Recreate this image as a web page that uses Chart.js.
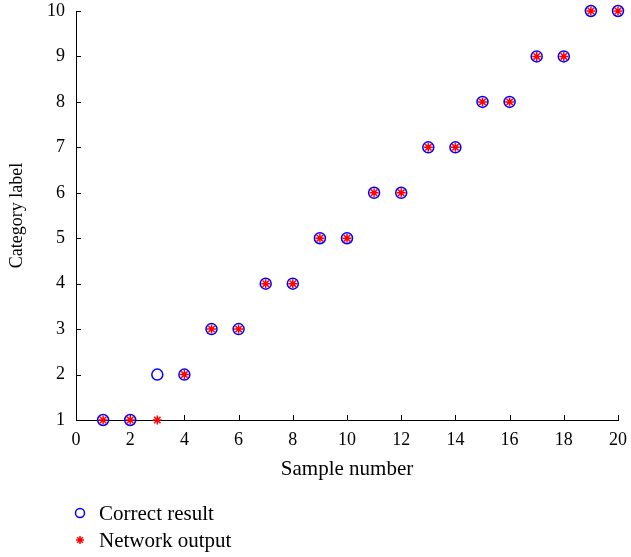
<!DOCTYPE html>
<html>
<head>
<meta charset="utf-8">
<title>Category label vs sample number</title>
<script src="https://cdn.jsdelivr.net/npm/chart.js"></script>
<style>
	html, body { margin: 0; padding: 0; background: #fff; }
	.chart-box { width: 631px; height: 557px; position: relative; }
</style>
</head>
<body>
<div class="chart-box"><canvas id="ScatterChart"></canvas></div>
<script>
// data
var samples = [1, 2, 3, 4, 5, 6, 7, 8, 9, 10, 11, 12, 13, 14, 15, 16, 17, 18, 19, 20];
var correctResult = [1, 1, 2, 2, 3, 3, 4, 4, 5, 5, 6, 6, 7, 7, 8, 8, 9, 9, 10, 10];
var networkOutput = [1, 1, 1, 2, 3, 3, 4, 4, 5, 5, 6, 6, 7, 7, 8, 8, 9, 9, 10, 10];
var xTicks = [0, 2, 4, 6, 8, 10, 12, 14, 16, 18, 20];
var yTicks = [1, 2, 3, 4, 5, 6, 7, 8, 9, 10];

var serif = '"Liberation Serif", "DejaVu Serif", serif';

function toPoints(ys) {
	return samples.map(function (x, i) { return { x: x, y: ys[i] }; });
}

// small tick marks pointing into the plot
var inwardTicks = {
	id: 'inwardTicks',
	beforeDatasetsDraw: function (chart) {
		var ctx = chart.ctx;
		var area = chart.chartArea;
		var xs = chart.scales.x, ys = chart.scales.y;
		ctx.save();
		ctx.strokeStyle = '#000';
		ctx.lineWidth = 1;
		ctx.beginPath();
		xTicks.forEach(function (v) {
			var px = Math.round(xs.getPixelForValue(v)) + 0.5;
			ctx.moveTo(px, area.bottom);
			ctx.lineTo(px, area.bottom - 5);
		});
		yTicks.forEach(function (v) {
			var py = Math.round(ys.getPixelForValue(v)) + 0.5;
			ctx.moveTo(area.left, py);
			ctx.lineTo(area.left + 5, py);
		});
		ctx.stroke();
		ctx.restore();
	}
};

// legend stacked under the x axis title
var stackedLegend = {
	id: 'stackedLegend',
	afterDraw: function (chart) {
		var ctx = chart.ctx;
		var area = chart.chartArea;
		var x0 = area.left + 4;
		var y0 = area.bottom + 93;
		ctx.save();
		chart.data.datasets.forEach(function (ds, i) {
			var y = y0 + i * 27;
			ctx.strokeStyle = ds.borderColor;
			ctx.fillStyle = ds.backgroundColor;
			ctx.lineWidth = ds.borderWidth;
			Chart.helpers.drawPoint(ctx, {
				pointStyle: ds.pointStyle,
				radius: ds.legendRadius,
				rotation: 0,
				borderWidth: ds.borderWidth
			}, x0, y);
			ctx.fillStyle = '#000';
			ctx.font = '21px ' + serif;
			ctx.textAlign = 'left';
			ctx.textBaseline = 'middle';
			ctx.fillText(ds.label, x0 + 19, y + 1);
		});
		ctx.restore();
	}
};

var ctx = document.getElementById('ScatterChart');
var myChart = new Chart(ctx, {
	type: 'scatter',
	data: {
		datasets: [{
			label: 'Correct result',
			data: toPoints(correctResult),
			pointStyle: 'circle',
			pointRadius: 5.5,
			legendRadius: 4.5,
			borderColor: '#0000ff',
			backgroundColor: 'rgba(0, 0, 0, 0)',
			borderWidth: 1.5,
			order: 1,
			clip: false
		}, {
			label: 'Network output',
			data: toPoints(networkOutput),
			pointStyle: 'star',
			pointRadius: 4.5,
			legendRadius: 4,
			borderColor: '#ff0000',
			backgroundColor: '#ff0000',
			borderWidth: 1.5,
			order: 0,
			clip: false
		}]
	},
	options: {
		responsive: true,
		maintainAspectRatio: false,
		animation: false,
		layout: {
			padding: { top: 11, right: 13, bottom: 75, left: 0 }
		},
		scales: {
			x: {
				type: 'linear',
				min: 0,
				max: 20,
				afterFit: function (scale) {
					scale.height = 62;
					scale.paddingLeft = 0;
					scale.paddingRight = 0;
				},
				afterBuildTicks: function (scale) {
					scale.ticks = xTicks.map(function (v) { return { value: v }; });
				},
				grid: { display: false, drawTicks: false },
				border: { display: true, color: '#000', width: 1 },
				ticks: {
					padding: 9,
					color: '#000',
					maxRotation: 0,
					font: { family: serif, size: 18 }
				},
				title: {
					display: true,
					text: 'Sample number',
					color: '#000',
					padding: { top: 0, bottom: 0 },
					font: { family: serif, size: 21 }
				}
			},
			y: {
				type: 'linear',
				min: 1,
				max: 10,
				afterFit: function (scale) {
					scale.width = 76;
					scale.paddingTop = 0;
					scale.paddingBottom = 0;
				},
				afterBuildTicks: function (scale) {
					scale.ticks = yTicks.map(function (v) { return { value: v }; });
				},
				grid: { display: false, drawTicks: false },
				border: { display: true, color: '#000', width: 1 },
				ticks: {
					padding: 11,
					color: '#000',
					font: { family: serif, size: 18 }
				},
				title: {
					display: true,
					text: 'Category label',
					color: '#000',
					padding: { top: 6, bottom: 0 },
					font: { family: serif, size: 18 }
				}
			}
		},
		plugins: {
			legend: { display: false },
			tooltip: { enabled: true }
		}
	},
	plugins: [inwardTicks, stackedLegend]
});
</script>
</body>
</html>
